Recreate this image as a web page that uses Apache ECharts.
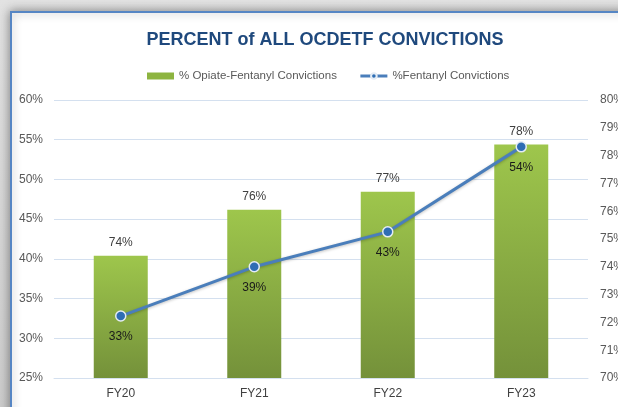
<!DOCTYPE html>
<html>
<head>
<meta charset="utf-8">
<script src="https://cdn.jsdelivr.net/npm/echarts@6/dist/echarts.min.js"></script>
<style>
  html, body { margin: 0; padding: 0; background: #d4d4d4; }
  #main { width: 618px; height: 407px; }
</style>
</head>
<body>
<div id="main"></div>
<script>
// data
var years = ['FY20', 'FY21', 'FY22', 'FY23']
var opiateFentanyl = [74.4, 76.05, 76.7, 78.4] // right axis (bars)
var fentanyl = [32.8, 39.0, 43.4, 54.1] // left axis (line)

var myChart = echarts.init(document.getElementById('main'))

var FONT = 'Liberation Sans'
var pct = function (v) { return v + '%' }

var option = {
  animation: false,
  backgroundColor: 'transparent',
  graphic: [
    {
      type: 'rect',
      z: -10,
      shape: { x: 0, y: 0, width: 618, height: 407 },
      style: {
        fill: new echarts.graphic.LinearGradient(0, 0, 0, 1, [
          { offset: 0, color: '#e2e2e2' },
          { offset: 1, color: '#cccccc' },
        ]),
      },
    },
    {
      type: 'rect',
      z: -9,
      shape: { x: 11, y: 12, width: 640, height: 430 },
      style: {
        fill: '#ffffff',
        stroke: '#5686c4',
        lineWidth: 2,
        shadowBlur: 10,
        shadowColor: 'rgba(0,0,0,0.4)',
      },
    },
  ],
  title: {
    text: 'PERCENT of ALL OCDETF CONVICTIONS',
    left: 320,
    textAlign: 'center',
    top: 26,
    textStyle: {
      fontFamily: FONT,
      fontSize: 18,
      fontWeight: 'bold',
      color: '#1f497d',
    },
  },
  legend: {
    top: 65,
    left: 142,
    itemGap: 22,
    textStyle: { fontFamily: FONT, fontSize: 11.5, color: '#595959' },
    data: [
      { name: '% Opiate-Fentanyl Convictions', icon: 'rect', itemStyle: { color: '#8db440' } },
      { name: '%Fentanyl Convictions', lineStyle: { width: 3 } },
    ],
    itemWidth: 27,
    itemHeight: 7,
  },
  grid: { left: 54, right: 30, top: 100, bottom: 29, outerBoundsMode: 'none' },
  xAxis: {
    type: 'category',
    data: years,
    axisTick: { show: false },
    axisLine: { lineStyle: { color: '#d4e0ef', width: 1 } },
    axisLabel: { fontFamily: FONT, fontSize: 12, color: '#404040', margin: 10 },
  },
  yAxis: [
    {
      type: 'value',
      min: 25,
      max: 60,
      interval: 5,
      axisLabel: { fontFamily: FONT, fontSize: 12, color: '#595959', formatter: pct, margin: 11 },
      splitLine: { lineStyle: { color: '#d4e0ef', width: 1 } },
      axisLine: { show: false },
      axisTick: { show: false },
    },
    {
      type: 'value',
      min: 70,
      max: 80,
      interval: 1,
      axisLabel: { fontFamily: FONT, fontSize: 12, color: '#595959', formatter: pct, margin: 12 },
      splitLine: { show: false },
      axisLine: { show: false },
      axisTick: { show: false },
    },
  ],
  series: [
    {
      name: '% Opiate-Fentanyl Convictions',
      type: 'bar',
      yAxisIndex: 1,
      data: opiateFentanyl,
      barWidth: 54,
      itemStyle: {
        color: new echarts.graphic.LinearGradient(0, 0, 0, 1, [
          { offset: 0, color: '#9ec64c' },
          { offset: 1, color: '#74913a' },
        ]),
      },
      label: {
        show: true,
        position: 'top',
        distance: 7,
        fontFamily: FONT,
        fontSize: 12,
        color: '#404040',
        formatter: function (p) { return Math.round(p.value) + '%' },
      },
    },
    {
      name: '%Fentanyl Convictions',
      type: 'line',
      yAxisIndex: 0,
      data: fentanyl,
      symbol: 'circle',
      symbolSize: 10,
      color: '#4a7ebb',
      lineStyle: {
        width: 3,
        color: '#4a7ebb',
        shadowBlur: 3,
        shadowColor: 'rgba(0,0,0,0.25)',
        shadowOffsetY: 1,
      },
      itemStyle: { color: '#2e6db4', borderColor: '#e4ecf5', borderWidth: 1.5 },
      label: {
        show: true,
        position: 'bottom',
        distance: 9,
        fontFamily: FONT,
        fontSize: 12,
        color: '#1a1a1a',
        formatter: function (p) { return Math.round(p.value) + '%' },
      },
      z: 5,
    },
  ],
}

myChart.setOption(option)
</script>
</body>
</html>
